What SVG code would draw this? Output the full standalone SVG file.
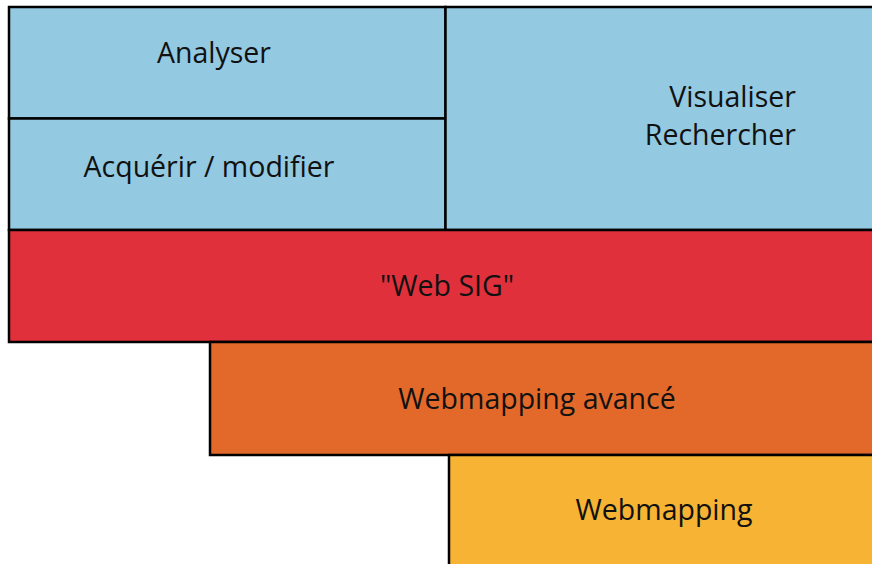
<svg xmlns="http://www.w3.org/2000/svg" width="872" height="564" viewBox="0 0 872 564">
<style>
.box{stroke:#000;stroke-width:2.5}
.blue{fill:#93C9E1}
.red{fill:#E0303C}
.orange{fill:#E2692A}
.yellow{fill:#F6B334}
text{font-family:"Open Sans","Liberation Sans",sans-serif;font-size:28.5px;fill:#111}
</style>
<rect width="872" height="564" fill="#fff"/>
<g id="analyser">
<rect class="box blue" x="9" y="7" width="436.5" height="111.5"/>
<text x="214" y="63" text-anchor="middle">Analyser</text>
</g>
<g id="acquerir">
<rect class="box blue" x="9" y="118.5" width="436.5" height="111.5"/>
<text x="209" y="177" text-anchor="middle">Acquérir / modifier</text>
</g>
<g id="visualiser">
<rect class="box blue" x="445.5" y="7" width="440" height="223"/>
<text x="796" y="107" text-anchor="end">Visualiser</text>
<text x="796" y="145" text-anchor="end">Rechercher</text>
</g>
<g id="websig">
<rect class="box red" x="9" y="230" width="880" height="112"/>
<text x="447" y="296" text-anchor="middle">"Web SIG"</text>
</g>
<g id="webmapping-avance">
<rect class="box orange" x="210" y="342" width="680" height="113"/>
<text x="537" y="409" text-anchor="middle">Webmapping avancé</text>
</g>
<g id="webmapping">
<rect class="box yellow" x="449" y="455" width="440" height="120"/>
<text x="664" y="520" text-anchor="middle">Webmapping</text>
</g>
<g id="connectors"/>
</svg>
